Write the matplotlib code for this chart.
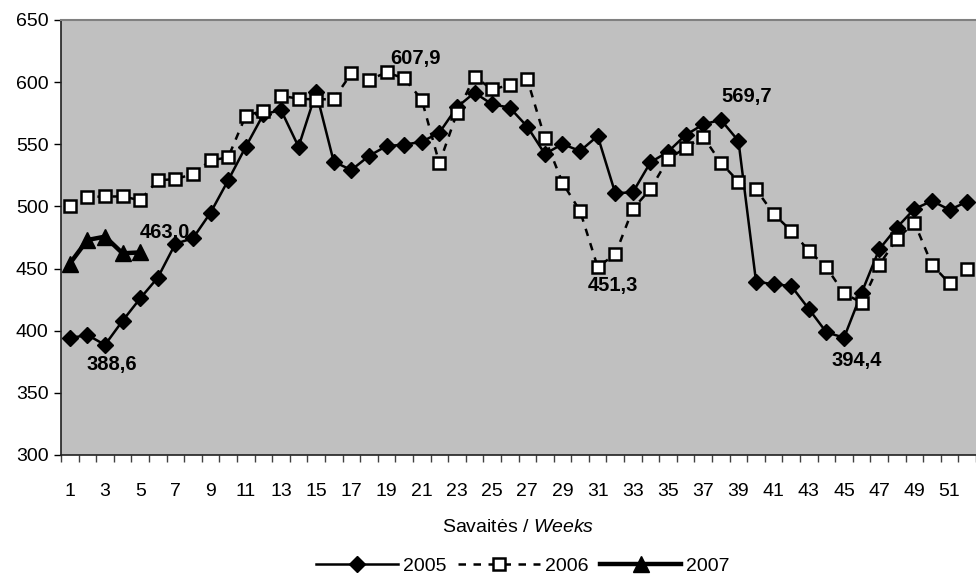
import numpy as np
import matplotlib
matplotlib.use('Agg')
import matplotlib.pyplot as plt

plt.rcParams['font.family'] = ['Liberation Sans', 'DejaVu Sans']
plt.rcParams['mathtext.fontset'] = 'custom'
plt.rcParams['mathtext.it'] = 'Liberation Sans:italic'
plt.rcParams['mathtext.rm'] = 'Liberation Sans'

weeks = np.arange(1, 53)
w2005 = [394, 396.6, 388.6, 408, 426, 442.7, 470, 474.4, 495, 521, 548, 574,
         577.6, 548, 592, 536, 529.3, 540.6, 548.6, 549.7, 552, 559.3, 579.8,
         591.5, 582.2, 579.5, 564.2, 542.2, 550.2, 544.6, 556.7, 510.6, 511.4,
         535.5, 544, 557.5, 566, 569.7, 552.7, 439.5, 437.4, 436, 417.5, 398.7,
         394.4, 430.6, 465.5, 483, 498, 504.4, 497.3, 503.8]
w2006 = [500, 507.6, 508, 508, 505, 521, 522, 526, 537, 539.5, 573, 577, 589,
         586.7, 586, 586.4, 607.0, 601.7, 607.9, 603, 586, 534.7, 575, 604.4,
         594.2, 597.7, 602.3, 554.8, 519, 496.3, 451.3, 461.5, 498, 514, 538,
         547.3, 556, 535.2, 520, 513.8, 494, 480.3, 464.4, 451, 430, 422.6, 453,
         473.8, 487, 453, 438, 449.4]
w2007 = [454, 473, 475.7, 462.3, 463.0]

# (series, week, text, offset in pixels)
labels = [
    (w2005, 3, '388,6', (-18, -20)),
    (w2007, 5, '463,0', (0, 20)),
    (w2006, 19, '607,9', (4, 14)),
    (w2006, 31, '451,3', (-10, -19)),
    (w2005, 38, '569,7', (1, 23)),
    (w2005, 45, '394,4', (-13, -23)),
]

fig = plt.figure(figsize=(9.76, 5.76), dpi=100)
ax = fig.add_axes([61/976, 1 - 455/576, 1 - 61/976, (455 - 20)/576])
ax.set_facecolor('#C0C0C0')

ax.plot(weeks, w2005, color='black', lw=1.8, marker='D', ms=8.5,
        mfc='black', mec='black', label='2005', zorder=3)
ax.plot(weeks, w2006, color='black', lw=1.8, ls=(0, (3, 3)), marker='s', ms=9,
        mfc='white', mec='black', mew=1.8, label='2006', zorder=4)
ax.plot(weeks[:len(w2007)], w2007, color='black', lw=3.2, marker='^', ms=11,
        mfc='black', mec='black', label='2007', zorder=5)

for ser, wk, txt, off in labels:
    ax.annotate(txt, (wk, ser[wk - 1]), xytext=off, textcoords='offset pixels',
                ha='left', va='center', fontsize=14.5, fontweight='bold', zorder=6)

ax.set_xlim(0.5, 52.06)
ax.set_ylim(300, 650)
ax.set_yticks(np.arange(300, 651, 50))
ax.set_xticks(np.arange(1, 53, 2))
ax.set_xticks(np.arange(0.5, 53, 1), minor=True)
ax.tick_params(axis='x', which='major', length=0, labelsize=14, pad=20)
ax.tick_params(axis='x', which='minor', length=5, width=1, color='#404040', direction='out')
ax.tick_params(axis='y', length=5, width=1, labelsize=14, pad=4)

for s in ['left', 'bottom']:
    ax.spines[s].set_color('#202020')
    ax.spines[s].set_linewidth(1.2)
ax.spines['top'].set_color('#808080')
ax.spines['top'].set_linewidth(1.5)
ax.spines['right'].set_visible(False)

ax.set_xlabel('Savaitės / $\\it{Weeks}$', fontsize=14, labelpad=14)

fig.legend(loc='center', bbox_to_anchor=(523/976, 1 - 566/576), ncol=3,
           frameon=False, fontsize=14, handlelength=4.2, handletextpad=0.25,
           columnspacing=0.6, borderaxespad=0)

fig.savefig('out.png', dpi=100)
